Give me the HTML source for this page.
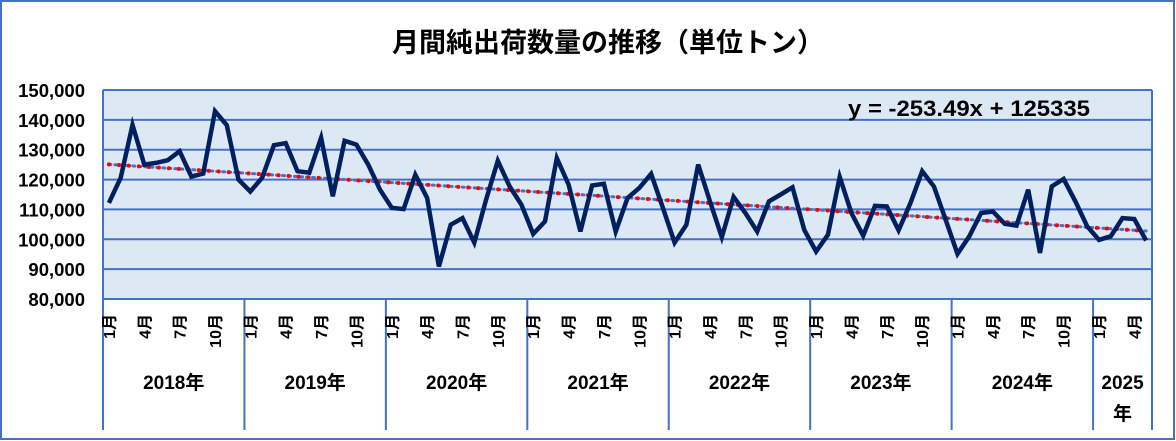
<!DOCTYPE html>
<html><head><meta charset="utf-8"><style>
body{margin:0;background:#fff;}
svg{display:block;font-family:"Liberation Sans","Noto Sans CJK JP",sans-serif;}
</style></head><body>
<svg width="1176" height="441" viewBox="0 0 1176 441">
<rect x="1" y="1" width="1173" height="438" fill="#fff" stroke="#4472c4" stroke-width="2"/>
<text x="608" y="52" text-anchor="middle" font-size="27" font-weight="bold" fill="#000">月間純出荷数量の推移（単位トン）</text>
<rect x="103" y="90" width="1049" height="209" fill="#dde8f5"/>
<g id="grid"></g>
<g id="yticks"></g>
<g id="xaxis"></g>
<g id="trend"></g>
<path id="series" fill="none" stroke="#002060" stroke-width="4.5" stroke-linejoin="miter"/>
<text x="848" y="116" font-size="22" font-weight="bold" fill="#000" textLength="242" lengthAdjust="spacingAndGlyphs">y = -253.49x + 125335</text>
</svg>
<script>
const years=["2018年","2019年","2020年","2021年","2022年","2023年","2024年","2025年"];
const yTicks=[80000,90000,100000,110000,120000,130000,140000,150000];
const values=[
112200,120600,138300,125000,125600,126500,129500,121000,122000,142900,138200,120000,
116000,120600,131500,132200,122800,122300,134000,114400,133000,131700,125000,116600,
110500,110100,121600,113900,90900,104900,107100,98900,113300,126300,117700,111600,
101800,106000,127200,118300,102600,118000,118600,102600,113800,117200,121900,110500,
98900,104900,125000,112700,100700,114200,108800,102600,112700,115000,117400,103100,
95900,101500,120900,108800,101200,111200,111000,103000,112100,122800,117700,106500,
95100,101000,108800,109300,105200,104600,116600,95400,117700,120200,112700,104300,
99800,101000,107100,106800,99600];
const trendSlope=-253.49, trendIntercept=125335;
const monthLabels=["1月","4月","7月","10月"];
const NS="http://www.w3.org/2000/svg";
const L=103,R=1152,T=90,B=299,yMin=80000,yMax=150000;
const n=values.length, step=(R-L)/n;
const xs=i=>L+step*(i+0.5);
const ys=v=>B-(v-yMin)/(yMax-yMin)*(B-T);
function mk(tag,attrs,parent){const e=document.createElementNS(NS,tag);for(const k in attrs)e.setAttribute(k,attrs[k]);parent.appendChild(e);return e;}
const grid=document.getElementById('grid'),yt=document.getElementById('yticks');
yTicks.forEach(v=>{
 const l=mk('line',{x1:L,x2:R,y1:ys(v),y2:ys(v),stroke:'#4472c4','stroke-width':2},grid);
 
 
 const t=mk('text',{x:85,y:ys(v)+7,'text-anchor':'end','font-size':18.5,'font-weight':'bold',fill:'#000'},yt);
 t.textContent=v.toLocaleString('en-US');
 
 
});
const xa=document.getElementById('xaxis');
let l0=mk('line',{x1:L,x2:L,y1:T,y2:430,stroke:'#4472c4','stroke-width':2},xa);


let l1=mk('line',{x1:R,x2:R,y1:T,y2:430,stroke:'#4472c4','stroke-width':2},xa);


years.forEach((y,yi)=>{
 const start=yi*12, cnt=Math.min(12,n-start);
 const x0=L+step*start, x1=L+step*(start+cnt);
 const sep=mk('line',{x1:x1,x2:x1,y1:B,y2:430,stroke:'#4472c4','stroke-width':2},xa);
 
 
 for(let m=0;m<cnt;m+=3){
  const x=xs(start+m);
  const t=mk('text',{x:0,y:0,'text-anchor':'end','font-size':16,'font-weight':'bold',fill:'#000',transform:`translate(${x+6},314) rotate(-90)`},xa);
  t.textContent=monthLabels[m/3];
  
  
 }
 const cx=(x0+x1)/2;
 if(cnt<12){
  const t=mk('text',{x:cx,y:389,'text-anchor':'middle','font-size':19,'font-weight':'bold',fill:'#000'},xa);
  t.textContent=y.slice(0,4);
  
  
  const t2=mk('text',{x:cx,y:420,'text-anchor':'middle','font-size':19,'font-weight':'bold',fill:'#000'},xa);
  t2.textContent=y.slice(4);
  
  
 } else {
  const t=mk('text',{x:cx,y:389,'text-anchor':'middle','font-size':19,'font-weight':'bold',fill:'#000'},xa);
  t.textContent=y;
  
  
 }
});
const tr=document.getElementById('trend');
const tx1=xs(0),tx2=xs(n-1),ty1=ys(trendSlope*1+trendIntercept),ty2=ys(trendSlope*n+trendIntercept);
const tb=mk('line',{x1:tx1,y1:ty1,x2:tx2,y2:ty2,stroke:'#4472c4','stroke-width':3,'stroke-dasharray':'2 4','stroke-linecap':'round'},tr);


const trd=mk('line',{x1:tx1,y1:ty1,x2:tx2,y2:ty2,stroke:'#ff0000','stroke-width':4,'stroke-dasharray':'0.1 9.9','stroke-linecap':'round'},tr);


document.getElementById('series').setAttribute('d',values.map((v,i)=>(i?'L':'M')+xs(i).toFixed(1)+','+ys(v).toFixed(1)).join(''));
</script>
</body></html>
